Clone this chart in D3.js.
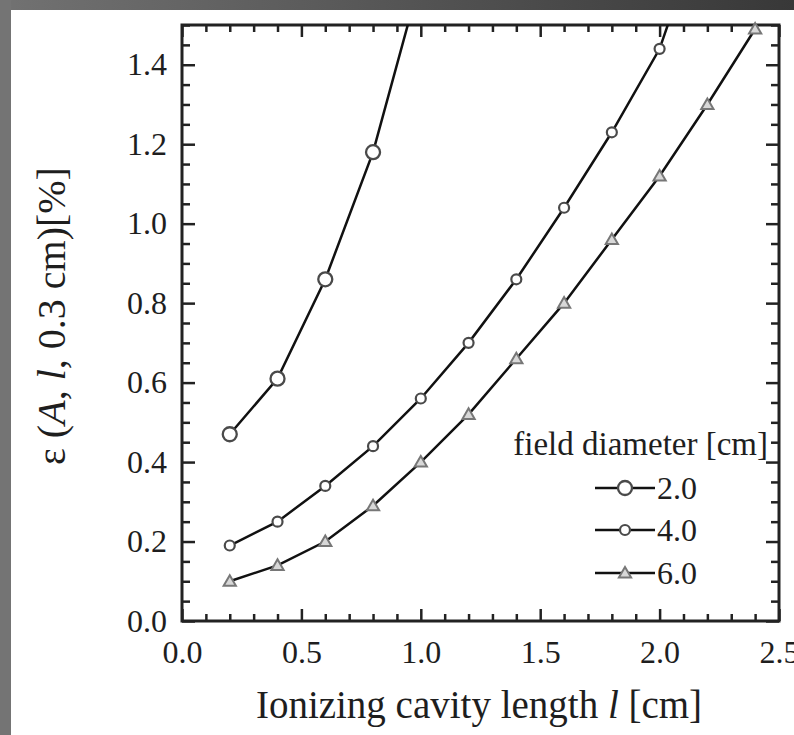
<html><head>
<title>Ionizing cavity length</title>
<script src="https://d3js.org/d3.v7.min.js"></script>
<style>
  body { margin: 0; background: #fff; }
  text { font-family: "Liberation Serif", "Times New Roman", serif; fill: #1e1e1e; }
  .tick line { stroke: #222; stroke-width: 2.5px; }
  .domain { display: none; }
</style>
</head>
<body>
<svg id="graph" width="794" height="735"></svg>

<script>
// Values
const cavityLength = [0.2, 0.4, 0.6, 0.8, 1.0, 1.2, 1.4, 1.6, 1.8, 2.0, 2.2, 2.4];
// field diameter 2.0 cm -- the last point sits above the top of the frame
const diam20 = [0.47, 0.61, 0.86, 1.18, 1.62];
// field diameter 4.0 cm
const diam40 = [0.19, 0.25, 0.34, 0.44, 0.56, 0.70, 0.86, 1.04, 1.23, 1.44, 1.79];
// field diameter 6.0 cm
const diam60 = [0.10, 0.14, 0.20, 0.29, 0.40, 0.52, 0.66, 0.80, 0.96, 1.12, 1.30, 1.49];
const seriesLabels = ["2.0", "4.0", "6.0"];
const markerShapes = ["circle", "small", "triangle"];

const xTicks = [0.0, 0.5, 1.0, 1.5, 2.0, 2.5];
const yTicks = [0.0, 0.2, 0.4, 0.6, 0.8, 1.0, 1.2, 1.4];

const svg = d3.select("#graph");
const W = +svg.attr("width"), H = +svg.attr("height");

// grey frame of the scanned picture
const grad = svg.append("defs").append("linearGradient").attr("id", "topbar");
grad.append("stop").attr("offset", "0%").attr("stop-color", "#727272");
grad.append("stop").attr("offset", "100%").attr("stop-color", "#383838");
svg.append("rect").attr("x", 0).attr("y", 0).attr("width", W).attr("height", 10).attr("fill", "url(#topbar)");
svg.append("rect").attr("x", 0).attr("y", 0).attr("width", 11).attr("height", H).attr("fill", "#747474");

const plot = { left: 182, right: 779, top: 25, bottom: 621 };

const x = d3.scaleLinear().domain([0, 2.5]).range([plot.left, plot.right]);
const y = d3.scaleLinear().domain([0, 1.5]).range([plot.bottom, plot.top]);

svg.append("clipPath").attr("id", "clip")
   .append("rect")
   .attr("x", plot.left).attr("y", plot.top)
   .attr("width", plot.right - plot.left).attr("height", plot.bottom - plot.top);

// minor tick positions (skip the majors)
const xMinor = d3.range(0, 2.51, 0.1).filter(v => Math.abs(v * 2 - Math.round(v * 2)) > 1e-6);
const yMinor = d3.range(0, 1.51, 0.05).filter(v => Math.abs(v * 5 - Math.round(v * 5)) > 1e-6);

function styleTicks(g) {
  g.attr("font-family", null).attr("font-size", null);
  g.selectAll("text").attr("font-size", 32);
}

// bottom axis with labels, ticks inward
svg.append("g").attr("transform", `translate(0,${plot.bottom})`)
   .call(d3.axisBottom(x).tickValues(xTicks).tickSize(-12).tickSizeOuter(0).tickPadding(19).tickFormat(d3.format(".1f")))
   .call(styleTicks);
svg.append("g").attr("transform", `translate(0,${plot.bottom})`)
   .call(d3.axisBottom(x).tickValues(xMinor).tickSize(-7).tickSizeOuter(0).tickFormat(""));

// top axis, ticks only
svg.append("g").attr("transform", `translate(0,${plot.top})`)
   .call(d3.axisTop(x).tickValues(xTicks).tickSize(-12).tickSizeOuter(0).tickFormat(""));
svg.append("g").attr("transform", `translate(0,${plot.top})`)
   .call(d3.axisTop(x).tickValues(xMinor).tickSize(-7).tickSizeOuter(0).tickFormat(""));

// left axis with labels
svg.append("g").attr("transform", `translate(${plot.left},0)`)
   .call(d3.axisLeft(y).tickValues(yTicks).tickSize(-13).tickSizeOuter(0).tickPadding(15).tickFormat(d3.format(".1f")))
   .call(styleTicks);
svg.append("g").attr("transform", `translate(${plot.left},0)`)
   .call(d3.axisLeft(y).tickValues(yMinor).tickSize(-8).tickSizeOuter(0).tickFormat(""));

// right axis, ticks only
svg.append("g").attr("transform", `translate(${plot.right},0)`)
   .call(d3.axisRight(y).tickValues(yTicks).tickSize(-13).tickSizeOuter(0).tickFormat(""));
svg.append("g").attr("transform", `translate(${plot.right},0)`)
   .call(d3.axisRight(y).tickValues(yMinor).tickSize(-8).tickSizeOuter(0).tickFormat(""));

// frame
svg.append("rect")
   .attr("x", plot.left).attr("y", plot.top)
   .attr("width", plot.right - plot.left).attr("height", plot.bottom - plot.top)
   .attr("fill", "none").attr("stroke", "#222").attr("stroke-width", 3);

// series
const series = [diam20, diam40, diam60].map((vals, i) => ({
  label: seriesLabels[i],
  shape: markerShapes[i],
  points: vals.map((v, j) => ({ x: cavityLength[j], y: v }))
}));

const line = d3.line().x(d => x(d.x)).y(d => y(d.y));

svg.append("g").attr("clip-path", "url(#clip)")
   .selectAll("path.series").data(series)
   .join("path")
   .attr("class", "series")
   .attr("d", d => line(d.points))
   .attr("fill", "none")
   .attr("stroke", "#111")
   .attr("stroke-width", 2.5);

function drawMarker(sel, shape) {
  if (shape === "circle") {
    sel.append("circle").attr("r", 7)
       .attr("fill", "#fff").attr("stroke", "#4a4a4a").attr("stroke-width", 2.3);
  } else if (shape === "small") {
    sel.append("circle").attr("r", 5)
       .attr("fill", "#fff").attr("stroke", "#4a4a4a").attr("stroke-width", 2.2);
  } else {
    sel.append("path").attr("d", d3.symbol(d3.symbolTriangle, 65)())
       .attr("transform", "translate(0,1)")
       .attr("fill", "#d8d8d8").attr("stroke", "#777").attr("stroke-width", 2);
  }
}

series.forEach(s => {
  const g = svg.append("g").selectAll("g.mark")
     .data(s.points.filter(p => p.y <= 1.5))
     .join("g")
     .attr("class", "mark")
     .attr("transform", d => `translate(${x(d.x)},${y(d.y)})`);
  drawMarker(g, s.shape);
});

// legend
const legend = svg.append("g");
legend.append("text")
      .attr("x", 768).attr("y", 455)
      .attr("text-anchor", "end")
      .attr("font-size", 33)
      .text("field diameter [cm]");

const legendY = [488, 530, 573];
series.forEach((s, i) => {
  const row = legend.append("g").attr("transform", `translate(0,${legendY[i]})`);
  row.append("line").attr("x1", 595).attr("x2", 655).attr("y1", 0).attr("y2", 0)
     .attr("stroke", "#111").attr("stroke-width", 2.5);
  const m = row.append("g").attr("transform", "translate(625,0)");
  drawMarker(m, s.shape);
  row.append("text").attr("x", 657).attr("y", 11)
     .attr("font-size", 32)
     .text(s.label);
});

// axis titles
const xTitle = svg.append("text")
   .attr("x", 479).attr("y", 718)
   .attr("text-anchor", "middle")
   .attr("font-size", 39);
xTitle.append("tspan").text("Ionizing cavity length ");
xTitle.append("tspan").attr("font-style", "italic").text("l");
xTitle.append("tspan").text(" [cm]");

const yTitle = svg.append("text")
   .attr("transform", "translate(65,316) rotate(-90)")
   .attr("text-anchor", "middle")
   .attr("font-size", 40);
yTitle.append("tspan").text("\u03b5 (");
yTitle.append("tspan").attr("font-style", "italic").text("A");
yTitle.append("tspan").text(", ");
yTitle.append("tspan").attr("font-style", "italic").text("l");
yTitle.append("tspan").text(", 0.3 cm)[%]");
</script>
</body>
</html>
